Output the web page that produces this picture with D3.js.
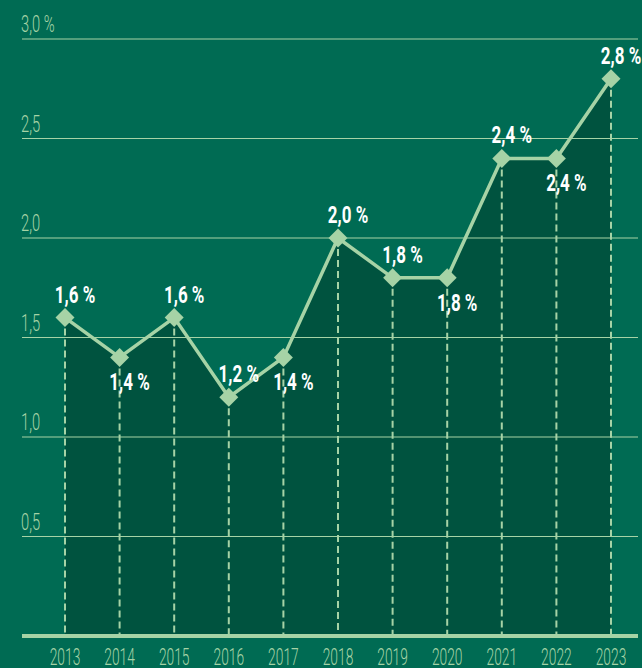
<!DOCTYPE html>
<html>
<head>
<meta charset="utf-8">
<script src="https://cdn.jsdelivr.net/npm/d3@7"></script>
<style>
  body { margin: 0; background: #006b53; }
  svg { display: block; }
  text { font-family: "Roboto", "Liberation Sans", sans-serif; }
</style>
</head>
<body>
<script>
// years and rates (%)
var years = [2013, 2014, 2015, 2016, 2017, 2018, 2019, 2020, 2021, 2022, 2023]
var rates = [1.6, 1.4, 1.6, 1.2, 1.4, 2.0, 1.8, 1.8, 2.4, 2.4, 2.8]
// label below the point?
var below = [false, true, false, false, true, false, false, true, false, true, false]
var yTicks = [0.5, 1.0, 1.5, 2.0, 2.5, 3.0]

var width = 642, height = 668
var light = "#a6d3a6"

var svg = d3.select("body").append("svg")
  .attr("width", width)
  .attr("height", height)

var x = d3.scaleLinear().domain([2013, 2023]).range([65, 611])
var y = d3.scaleLinear().domain([0, 3]).range([636, 39])

var data = years.map(function(d, i) { return {year: d, rate: rates[i], below: below[i]} })

var fmt = function(v) { return d3.format(".1f")(v).replace(".", ",") }

// condensed look: squeeze text horizontally
var squeeze = function(sel, px, py, sx) {
  return sel.attr("transform", (d, i) => "translate(" + px(d, i) + "," + py(d, i) + ") scale(" + sx + ",1)")
}

// area
var area = d3.area()
  .x(d => x(d.year))
  .y0(y(0))
  .y1(d => y(d.rate))
svg.append("path")
  .datum(data)
  .attr("d", area)
  .attr("fill", "#00533f")

// gridlines
svg.append("g").selectAll("line")
  .data(yTicks)
  .join("line")
  .attr("x1", 22).attr("x2", 638)
  .attr("y1", d => y(d)).attr("y2", d => y(d))
  .attr("stroke", light)
  .attr("stroke-width", 1.2)

// tick labels
svg.append("g").selectAll("text")
  .data(yTicks)
  .join("text")
  .call(squeeze, d => 21, d => y(d) - 7, 0.64)
  .attr("fill", light)
  .attr("font-size", 23)
  .attr("font-weight", 300)
  .text(d => fmt(d) + (d == 3 ? " %" : ""))

// dashed drops
svg.append("g").selectAll("line")
  .data(data)
  .join("line")
  .attr("x1", d => x(d.year)).attr("x2", d => x(d.year))
  .attr("y1", d => y(d.rate)).attr("y2", y(0))
  .attr("stroke", light)
  .attr("stroke-width", 2)
  .attr("stroke-dasharray", "7,4")

// baseline
svg.append("line")
  .attr("x1", 22).attr("x2", 638)
  .attr("y1", y(0)).attr("y2", y(0))
  .attr("stroke", light)
  .attr("stroke-width", 4)

// line
var line = d3.line()
  .x(d => x(d.year))
  .y(d => y(d.rate))
svg.append("path")
  .datum(data)
  .attr("d", line)
  .attr("fill", "none")
  .attr("stroke", light)
  .attr("stroke-width", 3.5)

// diamonds
svg.append("g").selectAll("path")
  .data(data)
  .join("path")
  .attr("d", d3.symbol().type(d3.symbolSquare).size(180))
  .attr("transform", d => "translate(" + x(d.year) + "," + y(d.rate) + ") rotate(45)")
  .attr("fill", light)

// value labels
svg.append("g").selectAll("text")
  .data(data)
  .join("text")
  .call(squeeze, d => x(d.year) + 10, d => y(d.rate) + (d.below ? 33 : -15), 0.74)
  .attr("text-anchor", "middle")
  .attr("fill", "white")
  .attr("font-size", 23)
  .attr("font-weight", "bold")
  .text(d => fmt(d.rate) + " %")

// year labels
svg.append("g").selectAll("text")
  .data(years)
  .join("text")
  .call(squeeze, d => x(d), d => 665, 0.6)
  .attr("text-anchor", "middle")
  .attr("fill", light)
  .attr("font-size", 23)
  .attr("font-weight", 300)
  .text(d => d)
</script>
</body>
</html>
